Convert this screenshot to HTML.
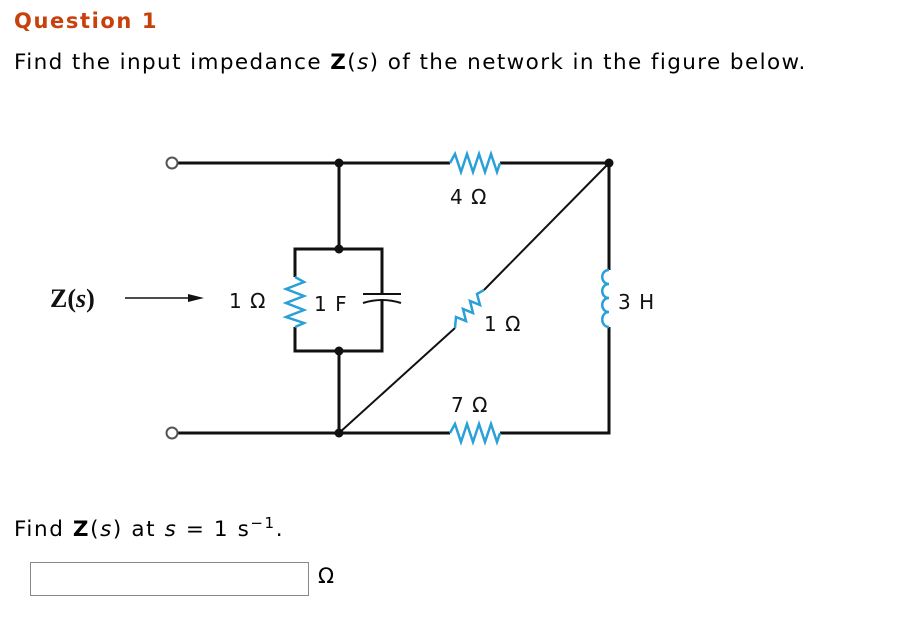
<!DOCTYPE html>
<html><head><style>
body{margin:0;width:898px;height:619px;background:#fff;position:relative;font-family:"DejaVu Sans","Liberation Sans",sans-serif;color:#000;overflow:hidden}
.t{position:absolute;white-space:nowrap}
</style></head><body>
<div class="t" style="left:14px;top:9px;font-size:21px;font-weight:bold;color:#c8400c;letter-spacing:1.6px">Question 1</div>
<div class="t" style="left:14px;top:50px;font-size:21.5px;letter-spacing:1.4px">Find the input impedance <b>Z</b>(<i>s</i>) of the network in the figure below.</div>
<svg style="position:absolute;left:0;top:0" width="898" height="619">
<g stroke="#111" stroke-width="3" fill="none">
<path d="M177 163H450M500 163H609V270M609 327V433H500M450 433H177"/>
<path d="M339 163V249M339 351V433"/>
<path d="M295 277V249H382V294M382 301V351H295V327"/>
</g>
<g stroke="#111" stroke-width="2" fill="none">
<path d="M339 433L455 328M484 290L609 163"/>
<path d="M363 294H401"/><path d="M363 303Q382 297 401 303"/>
</g>
<circle cx="172" cy="163" r="5.5" fill="#fff" stroke="#555" stroke-width="2"/>
<circle cx="172" cy="433" r="5.5" fill="#fff" stroke="#555" stroke-width="2"/>
<g fill="#111"><circle cx="339" cy="163" r="4.5"/><circle cx="609" cy="163" r="4.5"/><circle cx="339" cy="249" r="4.5"/><circle cx="339" cy="351" r="4.5"/><circle cx="339" cy="433" r="4.5"/></g>
<g stroke="#2aa0d8" stroke-width="2.5" fill="none">
<path d="M450 163L455 154L461 172L467 154L473 172L479 154L485 172L491 154L497 172L500 163"/>
<path d="M450 433L455 424L461 442L467 424L473 442L479 424L485 442L491 424L497 442L500 433"/>
<path d="M295 277L304 282L286 289L304 296L286 303L304 310L286 317L304 323L295 327"/>
<path d="M455 328L456 317L466 321L463 309L473 313L470 301L480 305L477 294L484 290"/>
<path d="M609 270C600 270 600 284 609 284C600 284 600 298 609 298C600 298 600 312 609 312C600 312 600 327 609 327"/>
</g>
<path d="M125 298H190" stroke="#111" stroke-width="1.5"/>
<path d="M188 294L204 298L188 302Z" fill="#111"/>
<g font-family="'DejaVu Sans',sans-serif" font-size="20" fill="#111" letter-spacing="1">
<text x="450" y="204">4 Ω</text>
<text x="484" y="331">1 Ω</text>
<text x="451" y="412">7 Ω</text>
<text x="229" y="308">1 Ω</text>
<text x="314" y="311">1 F</text>
<text x="618" y="309">3 H</text>
</g>
<text x="50" y="307" font-family="'Liberation Serif',serif" font-size="26" font-weight="bold" fill="#111">Z(<tspan font-style="italic">s</tspan>)</text>
</svg>
<div class="t" style="left:14px;top:514px;font-size:21.5px;letter-spacing:1.6px">Find <b>Z</b>(<i>s</i>) at <i>s</i> = 1 s<sup style="font-size:15px">−1</sup>.</div>
<div style="position:absolute;left:30px;top:562px;width:277px;height:32px;border:1px solid #888"></div>
<div class="t" style="left:318px;top:564px;font-size:21px">Ω</div>
</body></html>
